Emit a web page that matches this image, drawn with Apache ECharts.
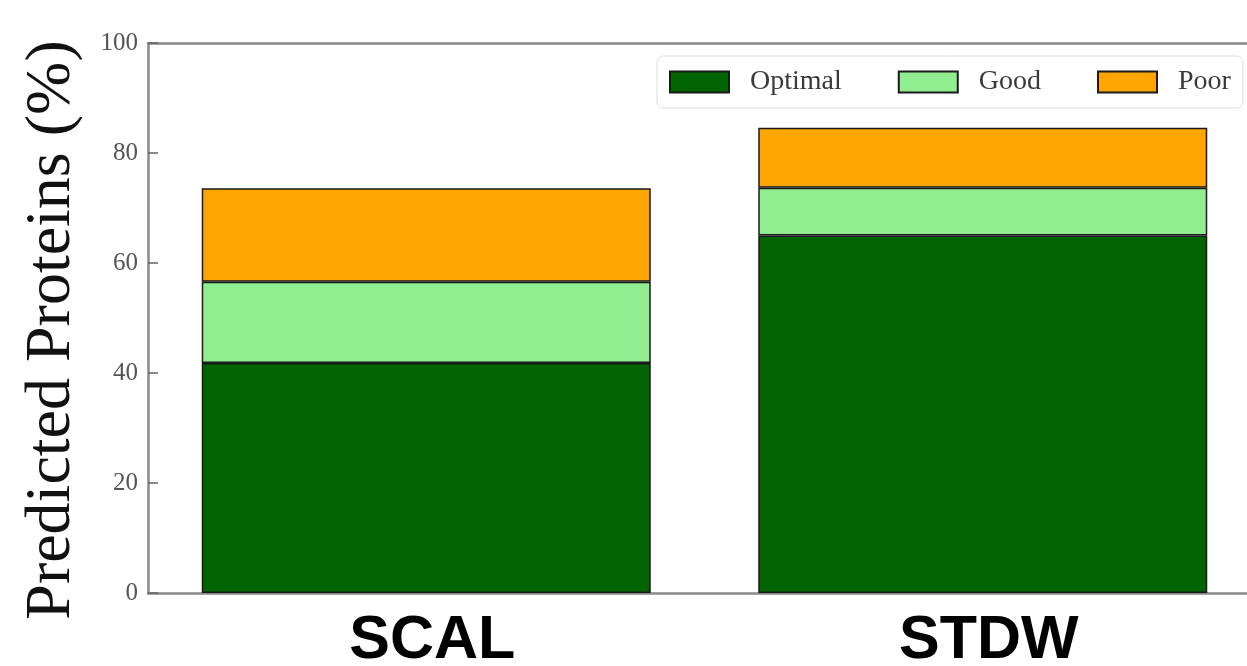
<!DOCTYPE html>
<html>
<head>
<meta charset="utf-8">
<script src="https://cdn.jsdelivr.net/npm/echarts@6/dist/echarts.min.js"></script>
<style>html,body{margin:0;padding:0;background:#fff;overflow:hidden;}#c{width:1247px;height:666px;}</style>
</head>
<body>
<div id="c"></div>
<script>
const categories = ['SCAL', 'STDW'];
const optimal = [41.8, 65.0];
const good = [14.8, 8.7];
const poor = [17.0, 10.9];
const yTicks = [0, 20, 40, 60, 80, 100];

const chart = echarts.init(document.getElementById('c'));
const serif = 'Liberation Serif';
const border = { borderColor: '#1a1a1a', borderWidth: 1.5 };
chart.setOption({
  animation: false,
  grid: { left: 148, top: 43, height: 550, width: 1113, outerBoundsMode: 'none', containLabel: false },
  legend: {
    left: 657, top: 56,
    padding: [12, 12, 12, 12],
    itemWidth: 59, itemHeight: 21, itemGap: 56, icon: 'rect',
    borderColor: '#dddddd', borderWidth: 1, borderRadius: 6,
    textStyle: { fontFamily: serif, fontSize: 28, color: '#3a3a3a', padding: [0, 0, 0, 16] },
    data: ['Optimal', 'Good', 'Poor']
  },
  xAxis: [{
    type: 'category', data: categories,
    axisLine: { lineStyle: { color: '#888', width: 2.5 } },
    axisTick: { show: false },
    axisLabel: { fontFamily: 'Liberation Sans', fontWeight: 'bold', fontSize: 61, color: '#000', margin: 18, padding: [0, 0, 0, 12] }
  }, {
    type: 'category', data: categories, position: 'top',
    axisLine: { show: true, lineStyle: { color: '#888', width: 2.5 } },
    axisTick: { show: false }, axisLabel: { show: false }
  }],
  yAxis: {
    type: 'value', min: 0, max: 100, interval: 20,
    name: 'Predicted Proteins (%)', nameLocation: 'middle', nameGap: 64,
    nameTextStyle: { fontFamily: serif, fontSize: 64, color: '#111', padding: [0, 24, 0, 0] },
    axisLine: { show: true, lineStyle: { color: '#888', width: 2.5 } },
    axisTick: { show: true, inside: true, length: 10, lineStyle: { color: '#666', width: 1.5 } },
    axisLabel: { fontFamily: serif, fontSize: 25, color: '#555', margin: 10,
      formatter: v => yTicks.includes(v) ? String(v) : '' },
    splitLine: { show: false }
  },
  series: [
    { name: 'Optimal', type: 'bar', stack: 's', data: optimal, barWidth: 449, itemStyle: Object.assign({ color: '#006400' }, border) },
    { name: 'Good', type: 'bar', stack: 's', data: good, barWidth: 449, itemStyle: Object.assign({ color: '#90EE90' }, border) },
    { name: 'Poor', type: 'bar', stack: 's', data: poor, barWidth: 449, itemStyle: Object.assign({ color: '#FFA500' }, border) }
  ]
});
</script>
</body>
</html>
